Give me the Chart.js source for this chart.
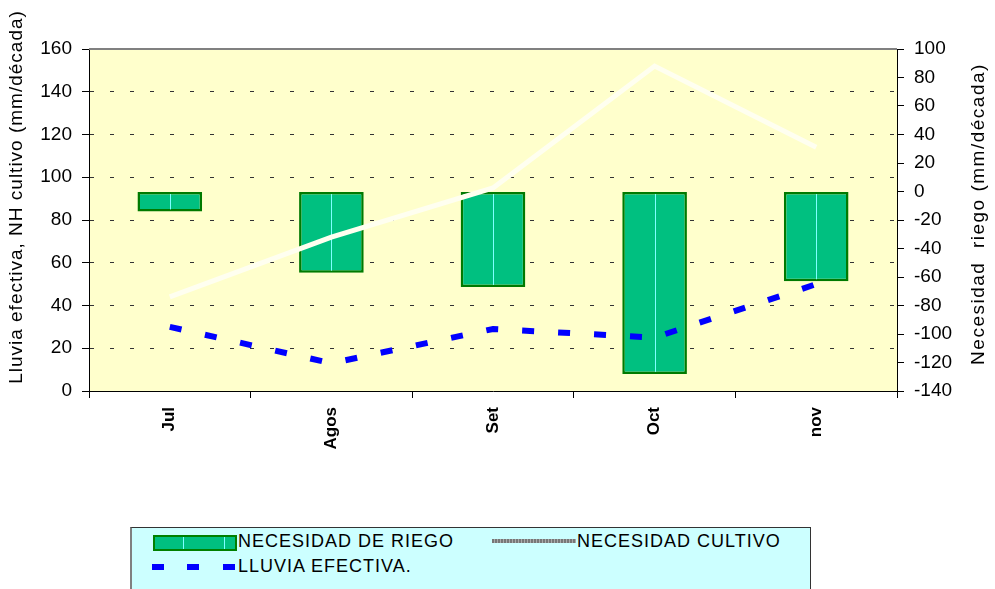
<!DOCTYPE html>
<html>
<head>
<meta charset="utf-8">
<script src="https://cdn.jsdelivr.net/npm/chart.js@4.4.0/dist/chart.umd.min.js"></script>
<style>
    html, body { margin: 0; padding: 0; background: #fff; overflow: hidden; }
    #wrap { position: relative; width: 995px; height: 589px; }
    #wrap canvas { position: absolute; left: 0; top: 0; }
    .leyenda-caja { position: absolute; left: 130px; top: 527px; width: 678px; height: 70px;
        background: #CCFFFF; border: 1px solid #333; border-left: 2px solid #808080; }
    .txt { position: absolute; font-family: Arial, "Liberation Sans", sans-serif; font-size: 18px;
        letter-spacing: 1px; line-height: 20px; color: #000; white-space: nowrap; }
    .muestra-barra { position: absolute; left: 153px; top: 535px; width: 80px; height: 12px;
        background: #00C080; border: 2px solid #008000; }
    .muestra-barra i { position: absolute; top: 0; width: 1px; height: 12px; background: #7FFFFF; }
    .muestra-cultivo { position: absolute; left: 492px; top: 539px; width: 84px; height: 4px;
        background: repeating-linear-gradient(90deg, #777 0 2px, #aaa 2px 3px); }
    .muestra-lluvia { position: absolute; top: 564px; width: 12px; height: 6px; background: #0000FF; }
</style>
</head>
<body>
<div id="wrap">
    <canvas id="grafico" width="995" height="589"></canvas>
    <div class="leyenda-caja"></div>
    <div class="muestra-barra"><i style="left:28px"></i><i style="left:69px"></i></div>
    <div class="txt" style="left:238px; top:531px">NECESIDAD DE RIEGO</div>
    <div class="muestra-cultivo"></div>
    <div class="txt" style="left:577px; top:531px">NECESIDAD CULTIVO</div>
    <div class="muestra-lluvia" style="left:152px"></div>
    <div class="muestra-lluvia" style="left:187px"></div>
    <div class="muestra-lluvia" style="left:223px"></div>
    <div class="txt" style="left:238px; top:556px">LLUVIA EFECTIVA.</div>
</div>
<script>
    const meses = ['Jul', 'Agos', 'Set', 'Oct', 'nov'];

    // mm/década
    const necesidadRiego = [-14, -57, -67, -128, -63];
    const necesidadCultivo = [44, 72, 95, 152, 114];
    const lluviaEfectiva = [30, 13, 29, 25, 50];

    const ticksIzq = [0, 20, 40, 60, 80, 100, 120, 140, 160];
    const ticksDer = [-140, -120, -100, -80, -60, -40, -20, 0, 20, 40, 60, 80, 100];

    const fuente = 'Arial, "Liberation Sans", sans-serif';

    // Fondo amarillo del área de trazado
    const fondo = {
        id: 'fondo',
        beforeDraw(chart) {
            const { ctx, chartArea: a } = chart;
            ctx.save();
            ctx.fillStyle = '#fff';
            ctx.fillRect(0, 0, chart.width, chart.height);
            ctx.fillStyle = '#FFFFCC';
            ctx.fillRect(a.left, a.top, a.right - a.left, a.bottom - a.top);
            ctx.restore();
        },
        afterDatasetDraw(chart, args) {
            // línea clara en el centro de cada barra
            if (args.index !== 0) return;
            const { ctx } = chart;
            ctx.save();
            ctx.strokeStyle = '#7FFFFF';
            ctx.lineWidth = 1;
            args.meta.data.forEach(bar => {
                const x = Math.round(bar.x) + 0.5;
                ctx.beginPath();
                ctx.moveTo(x, Math.min(bar.y, bar.base) + 2);
                ctx.lineTo(x, Math.max(bar.y, bar.base) - 2);
                ctx.stroke();
            });
            ctx.restore();
        },
        afterDraw(chart) {
            const { ctx, chartArea: a } = chart;
            ctx.save();
            // borde superior gris
            ctx.strokeStyle = '#808080';
            ctx.lineWidth = 2;
            ctx.beginPath();
            ctx.moveTo(a.left, a.top);
            ctx.lineTo(a.right, a.top);
            ctx.stroke();

            // títulos de los ejes
            ctx.fillStyle = '#000';
            ctx.font = '19px ' + fuente;
            ctx.textAlign = 'center';
            ctx.textBaseline = 'middle';
            ctx.letterSpacing = '1px';
            ctx.translate(17, 197);
            ctx.rotate(-Math.PI / 2);
            ctx.fillText('Lluvia efectiva, NH cultivo (mm/década)', 0, 0);
            ctx.setTransform(1, 0, 0, 1, 0, 0);
            ctx.letterSpacing = '1.5px';
            ctx.translate(979, 214);
            ctx.rotate(-Math.PI / 2);
            ctx.fillText('Necesidad  riego (mm/década)', 0, 0);
            ctx.restore();
        }
    };

    const ctx = document.getElementById('grafico').getContext('2d');

    new Chart(ctx, {
        data: {
            labels: meses,
            datasets: [{
                type: 'bar',
                label: 'NECESIDAD DE RIEGO',
                data: necesidadRiego,
                yAxisID: 'yDer',
                backgroundColor: '#00C080',
                borderColor: '#007A00',
                borderWidth: 2.5,
                borderSkipped: false,
                barPercentage: 0.4,
                categoryPercentage: 1,
                order: 3
            }, {
                type: 'line',
                label: 'NECESIDAD CULTIVO',
                data: necesidadCultivo,
                yAxisID: 'yIzq',
                borderColor: '#FFFFF0',
                borderWidth: 5,
                pointRadius: 0,
                tension: 0,
                order: 2
            }, {
                type: 'line',
                label: 'LLUVIA EFECTIVA.',
                data: lluviaEfectiva,
                yAxisID: 'yIzq',
                borderColor: '#0000FF',
                borderWidth: 6,
                borderDash: [12, 24],
                borderCapStyle: 'butt',
                pointRadius: 0,
                tension: 0,
                order: 1
            }]
        },
        options: {
            responsive: false,
            animation: false,
            layout: { padding: { top: 49, left: 0, right: 0, bottom: 0 } },
            plugins: {
                legend: { display: false },
                tooltip: { enabled: false }
            },
            scales: {
                x: {
                    offset: true,
                    afterFit(scale) { scale.height = 198; },
                    grid: {
                        offset: true,
                        drawOnChartArea: false,
                        drawTicks: true,
                        tickLength: 7,
                        color: '#000',
                        tickColor: '#000'
                    },
                    border: { color: '#000', width: 1 },
                    ticks: {
                        minRotation: 90,
                        maxRotation: 90,
                        padding: 9,
                        color: '#000',
                        font: { family: fuente, size: 17, weight: 'bold' }
                    }
                },
                yIzq: {
                    position: 'left',
                    min: ticksIzq[0],
                    max: ticksIzq[ticksIzq.length - 1],
                    afterBuildTicks(scale) { scale.ticks = ticksIzq.map(v => ({ value: v })); },
                    afterFit(scale) { scale.width = 89; },
                    grid: {
                        color: c => (c.tick && (c.tick.value === 0 || c.tick.value === 160)) ? 'rgba(0,0,0,0)' : '#333',
                        tickColor: '#000',
                        tickLength: 7,
                        tickBorderDash: [],
                        lineWidth: 1
                    },
                    border: { color: '#000', width: 1, dash: [4, 16] },
                    ticks: {
                        padding: 10,
                        color: '#000',
                        font: { family: fuente, size: 19 }
                    }
                },
                yDer: {
                    position: 'right',
                    min: ticksDer[0],
                    max: ticksDer[ticksDer.length - 1],
                    afterBuildTicks(scale) { scale.ticks = ticksDer.map(v => ({ value: v })); },
                    afterFit(scale) { scale.width = 98; },
                    grid: {
                        drawOnChartArea: false,
                        color: '#000',
                        tickColor: '#000',
                        tickLength: 7
                    },
                    border: { color: '#000', width: 1 },
                    ticks: {
                        padding: 10,
                        color: '#000',
                        font: { family: fuente, size: 19 }
                    }
                }
            }
        },
        plugins: [fondo]
    });
</script>
</body>
</html>
